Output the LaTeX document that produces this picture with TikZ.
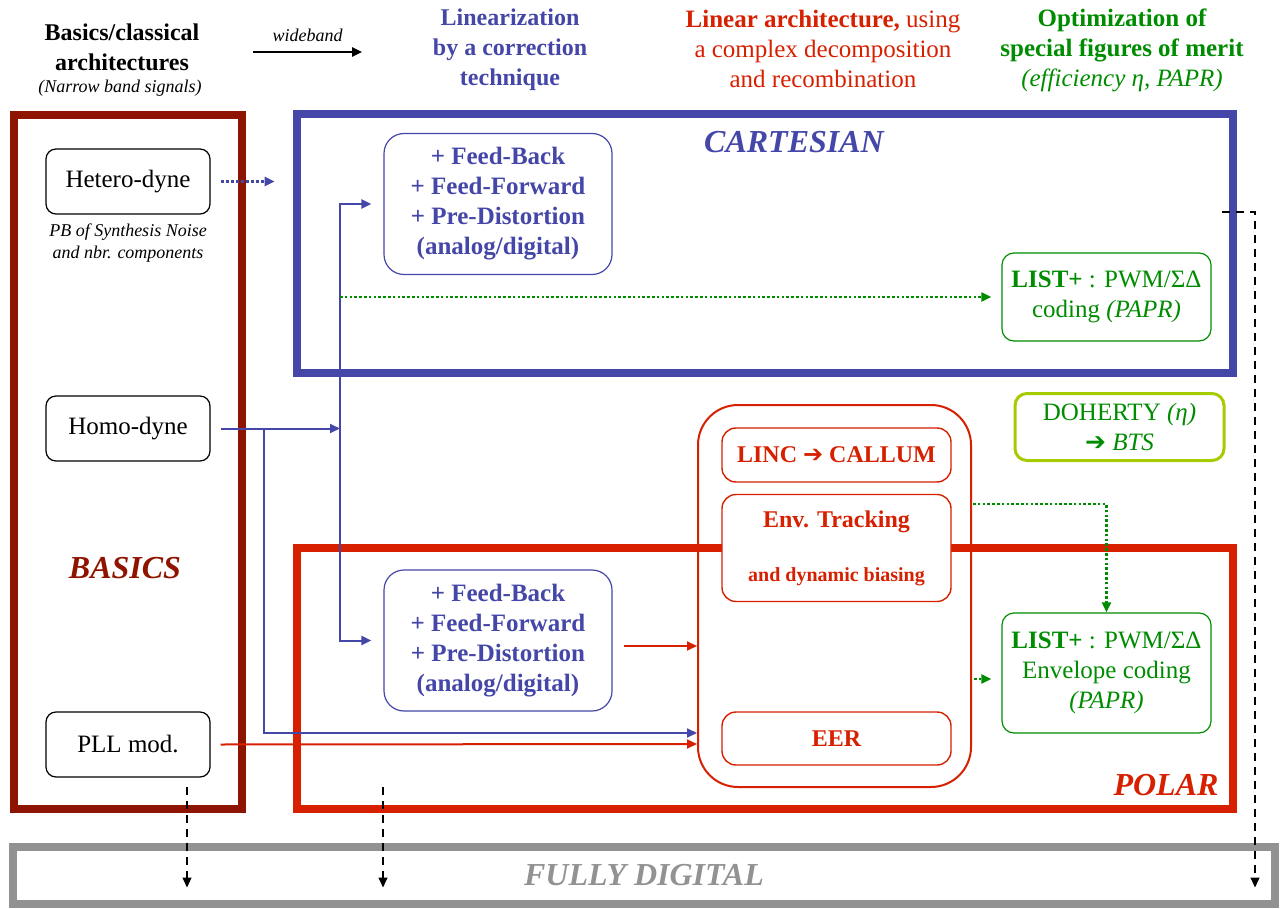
\documentclass[tikz,border=0pt]{standalone}
\usepackage{fontspec}
\setmainfont{Liberation Serif}
\newfontfamily\symfont{DejaVu Sans}
\usetikzlibrary{arrows.meta}
\definecolor{cblue}{RGB}{68,70,168}
\definecolor{cbasic}{RGB}{142,20,0}
\definecolor{cred}{RGB}{214,32,0}
\definecolor{cgreen}{RGB}{0,140,0}
\definecolor{clime}{RGB}{166,204,0}
\definecolor{cgray}{RGB}{146,146,146}

\begin{document}
\begin{tikzpicture}[x=0.5pt,y=-0.5pt,>={Triangle[length=5pt,width=4.5pt]},
    frame/.style={line width=4pt},
    basebox/.style={draw,rounded corners=5pt,line width=0.6pt,fill=white,
      minimum width=82pt,minimum height=32.5pt,font=\fontsize{12.5}{15}\selectfont},
    corrbox/.style={draw=cblue,text=cblue,rounded corners=10pt,line width=0.6pt,fill=white,
      minimum width=114pt,minimum height=70.5pt,align=center,
      font=\bfseries\fontsize{12.5}{15}\selectfont},
    polbox/.style={draw=cred,text=cred,rounded corners=7pt,line width=0.7pt,fill=white,
      minimum width=114.5pt,align=center,font=\bfseries\fontsize{12}{14}\selectfont},
    listbox/.style={draw=cgreen,text=cgreen,rounded corners=6pt,line width=0.6pt,fill=white,
      minimum width=104.5pt,align=center,font=\fontsize{12.5}{15}\selectfont},
    bluewire/.style={cblue,line width=1pt},
    redwire/.style={cred,line width=1pt},
    greendot/.style={cgreen,line width=1.3pt,dash pattern=on 1.3pt off 1.1pt},
    digiwire/.style={black,line width=0.6pt,dash pattern=on 4pt off 3pt},
    title/.style={font=\bfseries\itshape\fontsize{16}{18}\selectfont}]
\useasboundingbox (0,0) rectangle (1280,909);

% headings
\node[align=center,font=\bfseries\fontsize{12}{15}\selectfont] (hbasic) at (122,47)
  {Basics/classical\\architectures};
\node[font=\itshape\fontsize{9}{11}\selectfont] (hnarrow) at (120,88) {(Narrow band signals)};
\node[align=center,text=cblue,font=\bfseries\fontsize{12}{15}\selectfont] (hlin) at (510,50)
  {Linearization\\by a correction\\technique};
\node[align=center,text=cred,font=\fontsize{12.5}{15}\selectfont] (harch) at (823,49)
  {{\bfseries Linear architecture,} using\\a complex decomposition\\and recombination};
\node[align=center,text=cgreen,font=\fontsize{12.5}{15}\selectfont] (hopt) at (1122,50)
  {{\bfseries Optimization of}\\{\bfseries special figures of merit}\\{\itshape (efficiency η, PAPR)}};
\coordinate (wb1) at (253,52);
\coordinate (wb2) at (362,52);
\draw[->,line width=1.2pt] (wb1) -- node[above=1pt,font=\itshape\fontsize{9}{11}\selectfont] {wideband} (wb2);

% big frames
\draw[frame,cbasic] (13.5,115) rectangle (242,809);
\draw[frame,cblue] (297,114) rectangle (1233,373);
\draw[frame,cred] (297,548) rectangle (1233,809);
\node[frame,draw=cgray,text=cgray,title,minimum width=631pt,minimum height=28.5pt]
  (digital) at (644,875.5) {FULLY DIGITAL};
\node[title,text=cbasic] (tbasic) at (125,568) {BASICS};
\node[title,text=cblue] (tcart) at (794,142) {CARTESIAN};
\node[title,text=cred] (tpolar) at (1166,785) {POLAR};

% left column
\foreach \n/\t/\y in {het/Hetero-dyne/181.5,homo/Homo-dyne/428.5,pll/PLL mod./744.5}
  \node[basebox] (\n) at (128,\y) {\t};
\node[align=center,font=\itshape\fontsize{9}{11}\selectfont] (pbnote) at (128,243)
  {PB of Synthesis Noise\\and nbr. components};

% correction boxes
\foreach \n/\y in {fbtop/204,fbbot/640.5}
  \node[corrbox] (\n) at (498,\y) {+ Feed-Back\\+ Feed-Forward\\+ Pre-Distortion\\(analog/digital)};

% polar block
\node[draw=cred,line width=1pt,rounded corners=20pt,minimum width=136.5pt,minimum height=191pt]
  (hub) at (834.5,596) {};
\node[polbox,minimum height=27pt] (linc) at (836.5,455) {LINC {\symfont ➔} CALLUM};
\node[polbox,minimum height=53.5pt] (env) at (836.5,548)
  {Env. Tracking\\[13pt]{\fontsize{10}{11}\selectfont and dynamic biasing}};
\node[polbox,minimum height=26.5pt] (eer) at (836.5,738.5) {EER};

% right column
\node[listbox,minimum height=44pt] (listtop) at (1106.5,297)
  {\textbf{LIST+} : PWM/ΣΔ\\coding \textit{(PAPR)}};
\node[listbox,minimum height=60pt] (listbot) at (1106.5,673)
  {\textbf{LIST+} : PWM/ΣΔ\\Envelope coding\\\textit{(PAPR)}};
\node[draw=clime,text=cgreen,line width=1.5pt,rounded corners=6pt,fill=white,
  minimum width=104.5pt,minimum height=33.5pt,align=center,font=\fontsize{12.5}{15}\selectfont]
  (doherty) at (1119.5,427) {DOHERTY \textit{(η)}\\{\symfont ➔} \textit{BTS}};

% connections
\coordinate (bus) at (340,428.5);
\coordinate (tap) at (264,428.5);
\draw[cblue,line width=1.5pt,dash pattern=on 1.5pt off 1pt,->] ([xshift=5pt]het.east) -- ++(27pt,0);
\draw[bluewire,->] ([xshift=5pt]homo.east) -- (bus);
\draw[bluewire,<->] ([xshift=-6pt]fbtop.west) -| (bus) |- ([xshift=-6pt]fbbot.west);
\draw[bluewire,->] (tap) |- ([yshift=2.75pt]hub.west |- eer.center);
\draw[redwire,->] ([xshift=5pt]pll.east) -- ([yshift=-2.75pt]hub.west |- eer.center);
\draw[redwire,->] ([xshift=5.5pt,yshift=-2.75pt]fbbot.east) -- ([yshift=-2.75pt]hub.west |- fbbot.east);
\draw[greendot,->] (bus |- listtop.west) -- ([xshift=-5pt]listtop.west);
\coordinate (envtap) at (973,504);
\draw[greendot,->] (envtap) -| (listbot.north);
\draw[greendot,->] ([xshift=1pt,yshift=-3pt]hub.east |- listbot.west) -- ([xshift=-5pt,yshift=-3pt]listbot.west);

% to fully digital
\foreach \x in {187,383}
  \draw[digiwire,->] (\x,787) -- ([yshift=-6pt]digital.center -| \x,0);
\coordinate (cartout) at (1222,212);
\draw[digiwire,->] (cartout) -| ([yshift=-6pt]digital.center -| 1255,0);
\end{tikzpicture}
\end{document}
